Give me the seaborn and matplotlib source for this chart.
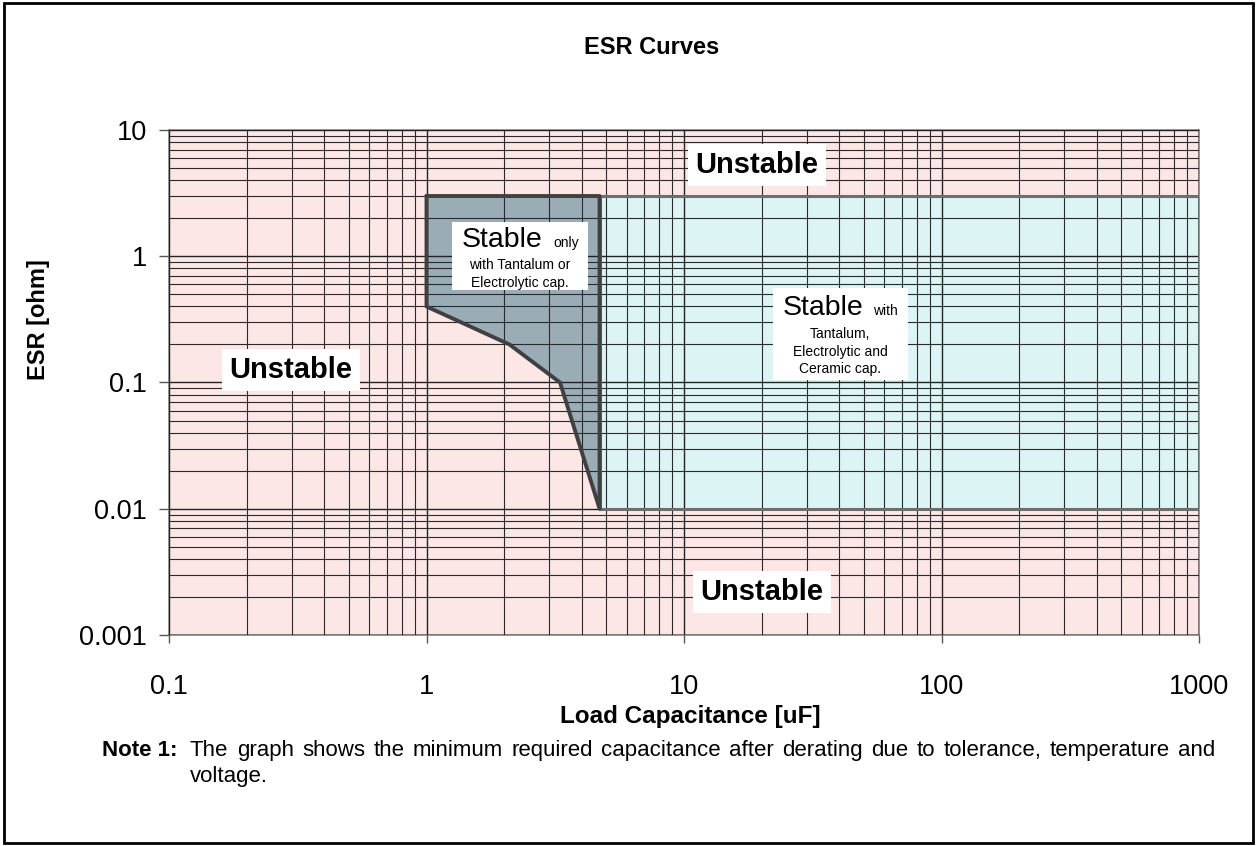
import numpy as np
import pandas as pd
import seaborn as sns
import matplotlib.pyplot as plt
from matplotlib.patches import Rectangle
from matplotlib.ticker import LogLocator, NullFormatter, FixedLocator, FixedFormatter

# region "Stable only with Tantalum or Electrolytic cap." (outline)
stable_cap = [1, 4.7, 4.7, 3.3, 2.1, 1, 1]
stable_esr = [3, 3, 0.01, 0.1, 0.2, 0.4, 3]

# region "Stable with Tantalum, Electrolytic and Ceramic cap."
ceramic_cap = [4.7, 1000, 1000, 4.7, 4.7]
ceramic_esr = [0.01, 0.01, 3, 3, 0.01]

x_ticks = [0.1, 1, 10, 100, 1000]
x_labels = ["0.1", "1", "10", "100", "1000"]
y_ticks = [0.001, 0.01, 0.1, 1, 10]
y_labels = ["0.001", "0.01", "0.1", "1", "10"]

note_line1 = "The graph shows the minimum required capacitance after derating due to tolerance, temperature and"
note_line2 = "voltage."

sns.set_style("white")
plt.rcParams['font.family'] = ['Liberation Sans', 'DejaVu Sans']
plt.rcParams['text.color'] = 'black'
plt.rcParams['xtick.labelcolor'] = 'black'
plt.rcParams['ytick.labelcolor'] = 'black'

W, H = 1257, 846
fig = plt.figure(figsize=(W / 100, H / 100), dpi=100)
ax = fig.add_axes([169 / W, 1 - 635 / H, (1199 - 169) / W, (635 - 130) / H])

def fx(px):
    return px / W

def fy(py):
    return 1 - py / H

ax.set_xscale("log")
ax.set_yscale("log")
ax.set_xlim(0.1, 1000)
ax.set_ylim(0.001, 10)
ax.set_facecolor("#fce6e6")

# filled regions
ax.fill(ceramic_cap, ceramic_esr, color="#dcf4f4", zorder=1)
ax.fill(stable_cap, stable_esr, color="#9aacb6", zorder=1)

ceramic_df = pd.DataFrame({"cap": ceramic_cap, "esr": ceramic_esr})
stable_df = pd.DataFrame({"cap": stable_cap, "esr": stable_esr})
sns.lineplot(data=ceramic_df, x="cap", y="esr", sort=False, estimator=None,
             color="#6e6e6e", lw=2.2, ax=ax, zorder=3)
sns.lineplot(data=stable_df, x="cap", y="esr", sort=False, estimator=None,
             color="#404040", lw=2.8, ax=ax, zorder=3)

# grid
ax.set_axisbelow(False)
ax.xaxis.set_major_locator(FixedLocator(x_ticks))
ax.xaxis.set_major_formatter(FixedFormatter(x_labels))
ax.yaxis.set_major_locator(FixedLocator(y_ticks))
ax.yaxis.set_major_formatter(FixedFormatter(y_labels))
ax.xaxis.set_minor_locator(LogLocator(base=10, subs=np.arange(2, 10)))
ax.yaxis.set_minor_locator(LogLocator(base=10, subs=np.arange(2, 10)))
ax.xaxis.set_minor_formatter(NullFormatter())
ax.yaxis.set_minor_formatter(NullFormatter())
ax.grid(which="major", color="#222222", lw=1.0, zorder=2)
ax.grid(which="minor", color="#2a2a2a", lw=0.8, zorder=2)

ax.tick_params(axis="x", which="major", length=6, width=1, color="#555555",
               pad=22, labelsize=19.5, labelcolor="black", direction="out", bottom=True)
ax.tick_params(axis="y", which="major", length=7, width=1, color="#555555",
               pad=9, labelsize=19.5, labelcolor="black", direction="out", left=True)
ax.tick_params(which="minor", length=0)
for s in ax.spines.values():
    s.set_color("#808080")
    s.set_linewidth(1.2)
ax.set_xlabel("")
ax.set_ylabel("")

# text boxes
box = dict(facecolor="white", edgecolor="none", boxstyle="square,pad=0.25")
fig.text(fx(757), fy(165), "Unstable", ha="center", va="center",
         fontsize=21, fontweight="bold", bbox=box, zorder=6)
fig.text(fx(291), fy(370), "Unstable", ha="center", va="center",
         fontsize=21, fontweight="bold", bbox=box, zorder=6)
fig.text(fx(762), fy(592), "Unstable", ha="center", va="center",
         fontsize=21, fontweight="bold", bbox=box, zorder=6)

fig.patches.append(Rectangle((fx(452), fy(290)), fx(588 - 452), (290 - 222) / H,
                             transform=fig.transFigure, facecolor="white",
                             edgecolor="none", zorder=5))
fig.text(fx(462), fy(247), "Stable", ha="left", va="baseline", fontsize=20.5, zorder=6)
fig.text(fx(553), fy(247), "only", ha="left", va="baseline", fontsize=10, zorder=6)
fig.text(fx(520), fy(265), "with Tantalum or", ha="center", va="center", fontsize=10, zorder=6)
fig.text(fx(520), fy(283), "Electrolytic cap.", ha="center", va="center", fontsize=10, zorder=6)

fig.patches.append(Rectangle((fx(773), fy(380)), fx(908 - 773), (380 - 288) / H,
                             transform=fig.transFigure, facecolor="white",
                             edgecolor="none", zorder=5))
fig.text(fx(783), fy(315), "Stable", ha="left", va="baseline", fontsize=20.5, zorder=6)
fig.text(fx(873), fy(315), "with", ha="left", va="baseline", fontsize=10, zorder=6)
fig.text(fx(840), fy(334), "Tantalum,", ha="center", va="center", fontsize=10, zorder=6)
fig.text(fx(840), fy(352), "Electrolytic and", ha="center", va="center", fontsize=10, zorder=6)
fig.text(fx(840), fy(369), "Ceramic cap.", ha="center", va="center", fontsize=10, zorder=6)

# titles and labels
fig.text(fx(652), fy(48), "ESR Curves", ha="center", va="center",
         fontsize=17, fontweight="bold")
fig.text(fx(690), fy(716), "Load Capacitance [uF]", ha="center", va="center",
         fontsize=17.5, fontweight="bold")
fig.text(fx(38), fy(320), "ESR [ohm]", ha="center", va="center", rotation=90,
         fontsize=17, fontweight="bold")

# note (first line justified between x=190 and x=1215)
fig.text(fx(102), fy(756), "Note 1:", ha="left", va="baseline", fontsize=16, fontweight="bold")
renderer = fig.canvas.get_renderer()
words = note_line1.split(" ")
word_texts = [fig.text(0, fy(756), w, ha="left", va="baseline", fontsize=16) for w in words]
widths = [t.get_window_extent(renderer).width for t in word_texts]
gap = (1215 - 190 - sum(widths)) / (len(words) - 1)
xpos = 190
for t, w in zip(word_texts, widths):
    t.set_x(fx(xpos))
    xpos += w + gap
fig.text(fx(190), fy(782), note_line2, ha="left", va="baseline", fontsize=16)

# figure border
fig.patches.append(Rectangle((fx(4), fy(843)), fx(1253 - 4), (843 - 3) / H,
                             transform=fig.transFigure, facecolor="none",
                             edgecolor="black", lw=2, zorder=10))

fig.savefig("out.png", dpi=100)
